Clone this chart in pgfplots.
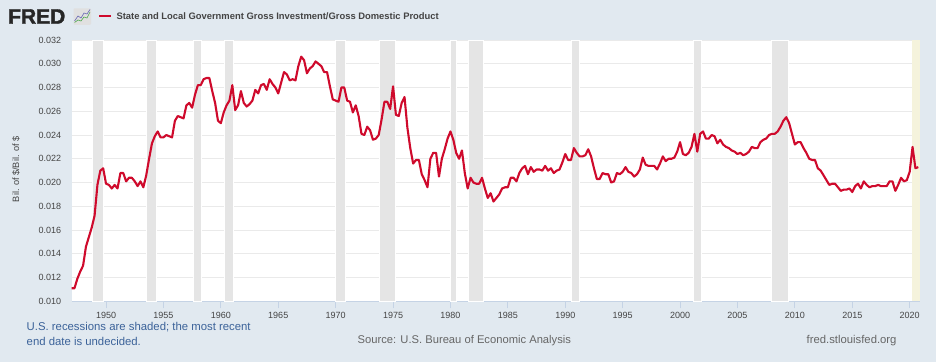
\documentclass[border=0pt]{standalone}
\usepackage{pgfplots}
\pgfplotsset{compat=1.18}
\usepackage{fontspec}
\setmainfont{Liberation Sans}
\definecolor{bgc}{HTML}{E1E9F0}
\definecolor{fredred}{HTML}{CF0A2C}
\definecolor{gridc}{HTML}{EAEAEA}
\definecolor{recc}{HTML}{E5E5E5}
\definecolor{yelc}{HTML}{F5F3DC}
\definecolor{axc}{HTML}{C5D3E5}
\definecolor{tickc}{HTML}{444444}
\definecolor{noteblue}{HTML}{3B6299}
\definecolor{srcc}{HTML}{666666}
\newcommand{\rec}[2]{\addplot[fill=recc,draw=white,line width=0.35pt,forget plot] coordinates {(#1,0.010)(#1,0.032)(#2,0.032)(#2,0.010)} -- cycle;}
\begin{document}
\begin{tikzpicture}[x=1pt,y=1pt]
\fill[bgc] (0,0) rectangle (936,362);
\begin{axis}[
  at={(71.6pt,60.7pt)},anchor=south west,
  scale only axis,width=848.4pt,height=261.3pt,
  xmin=1947,xmax=2020.9,ymin=0.010,ymax=0.032,
  axis background/.style={fill=white},
  axis lines*=left,
  y axis line style={draw=none},
  x axis line style={-,draw=axc,line width=0.8pt},
  xtick={1950,1955,...,2020},
  ytick={0.010,0.012,...,0.0321},
  xticklabel style={font=\fontsize{9}{11}\selectfont,text=tickc,/pgf/number format/.cd,1000 sep={},assume math mode=true},
  yticklabel style={font=\fontsize{9}{11}\selectfont,text=tickc,/pgf/number format/.cd,fixed,fixed zerofill,precision=3,assume math mode=true},
  scaled y ticks=false,
  ymajorgrids,
  major grid style={draw=gridc,line width=1pt},
  x tick style={draw=axc,line width=0.8pt},
  major tick length=7pt,
  tick align=outside,
  y tick style={draw=none},
  xtick pos=bottom,ytick pos=left,
  ylabel={Bil. of \$/Bil. of \$},
  every axis y label/.style={at={(-55.6pt,132pt)},rotate=90,anchor=center,font=\fontsize{9.2}{11}\selectfont,text=tickc},
  clip=true,
]
\rec{1948.83}{1949.75}
\rec{1953.5}{1954.33}
\rec{1957.58}{1958.25}
\rec{1960.25}{1961.08}
\rec{1969.92}{1970.83}
\rec{1973.83}{1975.17}
\rec{1980.0}{1980.5}
\rec{1981.5}{1982.83}
\rec{1990.5}{1991.17}
\rec{2001.17}{2001.83}
\rec{2007.92}{2009.42}
\addplot[fill=yelc,draw=none,forget plot] coordinates {(2020.17,0.010)(2020.17,0.032)(2020.9,0.032)(2020.9,0.010)} -- cycle;
\addplot[color=fredred,line width=2.1pt,line join=round] coordinates {
(1947.00,0.0111)(1947.25,0.0111)(1947.50,0.0119)(1947.75,0.0125)
(1948.00,0.0130)(1948.25,0.0146)(1948.50,0.0154)(1948.75,0.0162)
(1949.00,0.0172)(1949.25,0.0198)(1949.50,0.0210)(1949.75,0.0212)
(1950.00,0.0199)(1950.25,0.0198)(1950.50,0.0195)(1950.75,0.0198)
(1951.00,0.0195)(1951.25,0.0208)(1951.50,0.0208)(1951.75,0.0201)
(1952.00,0.0204)(1952.25,0.0204)(1952.50,0.0201)(1952.75,0.0197)
(1953.00,0.0201)(1953.25,0.0196)(1953.50,0.0206)(1953.75,0.0220)
(1954.00,0.0233)(1954.25,0.0239)(1954.50,0.0243)(1954.75,0.0238)
(1955.00,0.0238)(1955.25,0.0240)(1955.50,0.0239)(1955.75,0.0238)
(1956.00,0.0252)(1956.25,0.0256)(1956.50,0.0255)(1956.75,0.0254)
(1957.00,0.0265)(1957.25,0.0267)(1957.50,0.0263)(1957.75,0.0274)
(1958.00,0.0282)(1958.25,0.0282)(1958.50,0.0287)(1958.75,0.0288)
(1959.00,0.0288)(1959.25,0.0277)(1959.50,0.0267)(1959.75,0.0252)
(1960.00,0.0250)(1960.25,0.0259)(1960.50,0.0265)(1960.75,0.0269)
(1961.00,0.0282)(1961.25,0.0261)(1961.50,0.0265)(1961.75,0.0277)
(1962.00,0.0267)(1962.25,0.0264)(1962.50,0.0266)(1962.75,0.0269)
(1963.00,0.0278)(1963.25,0.0275)(1963.50,0.0282)(1963.75,0.0283)
(1964.00,0.0278)(1964.25,0.0287)(1964.50,0.0283)(1964.75,0.0280)
(1965.00,0.0275)(1965.25,0.0284)(1965.50,0.0293)(1965.75,0.0291)
(1966.00,0.0286)(1966.25,0.0287)(1966.50,0.0286)(1966.75,0.0298)
(1967.00,0.0306)(1967.25,0.0303)(1967.50,0.0292)(1967.75,0.0296)
(1968.00,0.0298)(1968.25,0.0302)(1968.50,0.0300)(1968.75,0.0298)
(1969.00,0.0293)(1969.25,0.0293)(1969.50,0.0281)(1969.75,0.0270)
(1970.00,0.0269)(1970.25,0.0268)(1970.50,0.0280)(1970.75,0.0280)
(1971.00,0.0269)(1971.25,0.0268)(1971.50,0.0259)(1971.75,0.0265)
(1972.00,0.0256)(1972.25,0.0241)(1972.50,0.0240)(1972.75,0.0247)
(1973.00,0.0244)(1973.25,0.0236)(1973.50,0.0237)(1973.75,0.0240)
(1974.00,0.0253)(1974.25,0.0268)(1974.50,0.0268)(1974.75,0.0262)
(1975.00,0.0281)(1975.25,0.0257)(1975.50,0.0256)(1975.75,0.0267)
(1976.00,0.0272)(1976.25,0.0246)(1976.50,0.0229)(1976.75,0.0216)
(1977.00,0.0219)(1977.25,0.0219)(1977.50,0.0207)(1977.75,0.0202)
(1978.00,0.0196)(1978.25,0.0220)(1978.50,0.0225)(1978.75,0.0225)
(1979.00,0.0205)(1979.25,0.0220)(1979.50,0.0228)(1979.75,0.0237)
(1980.00,0.0243)(1980.25,0.0236)(1980.50,0.0225)(1980.75,0.0220)
(1981.00,0.0227)(1981.25,0.0208)(1981.50,0.0195)(1981.75,0.0204)
(1982.00,0.0200)(1982.25,0.0199)(1982.50,0.0199)(1982.75,0.0204)
(1983.00,0.0195)(1983.25,0.0187)(1983.50,0.0191)(1983.75,0.0184)
(1984.00,0.0187)(1984.25,0.0190)(1984.50,0.0195)(1984.75,0.0196)
(1985.00,0.0196)(1985.25,0.0204)(1985.50,0.0204)(1985.75,0.0201)
(1986.00,0.0208)(1986.25,0.0212)(1986.50,0.0214)(1986.75,0.0207)
(1987.00,0.0213)(1987.25,0.0209)(1987.50,0.0211)(1987.75,0.0211)
(1988.00,0.0210)(1988.25,0.0214)(1988.50,0.0210)(1988.75,0.0212)
(1989.00,0.0208)(1989.25,0.0210)(1989.50,0.0211)(1989.75,0.0217)
(1990.00,0.0224)(1990.25,0.0219)(1990.50,0.0219)(1990.75,0.0229)
(1991.00,0.0225)(1991.25,0.0222)(1991.50,0.0222)(1991.75,0.0223)
(1992.00,0.0228)(1992.25,0.0222)(1992.50,0.0212)(1992.75,0.0203)
(1993.00,0.0203)(1993.25,0.0208)(1993.50,0.0207)(1993.75,0.0207)
(1994.00,0.0200)(1994.25,0.0201)(1994.50,0.0208)(1994.75,0.0207)
(1995.00,0.0209)(1995.25,0.0213)(1995.50,0.0209)(1995.75,0.0208)
(1996.00,0.0205)(1996.25,0.0207)(1996.50,0.0211)(1996.75,0.0221)
(1997.00,0.0215)(1997.25,0.0214)(1997.50,0.0214)(1997.75,0.0214)
(1998.00,0.0211)(1998.25,0.0216)(1998.50,0.0222)(1998.75,0.0218)
(1999.00,0.0220)(1999.25,0.0220)(1999.50,0.0221)(1999.75,0.0226)
(2000.00,0.0234)(2000.25,0.0224)(2000.50,0.0223)(2000.75,0.0225)
(2001.00,0.0230)(2001.25,0.0241)(2001.50,0.0226)(2001.75,0.0241)
(2002.00,0.0243)(2002.25,0.0237)(2002.50,0.0237)(2002.75,0.0240)
(2003.00,0.0239)(2003.25,0.0233)(2003.50,0.0236)(2003.75,0.0232)
(2004.00,0.0230)(2004.25,0.0229)(2004.50,0.0227)(2004.75,0.0226)
(2005.00,0.0224)(2005.25,0.0225)(2005.50,0.0223)(2005.75,0.0224)
(2006.00,0.0226)(2006.25,0.0230)(2006.50,0.0229)(2006.75,0.0229)
(2007.00,0.0234)(2007.25,0.0236)(2007.50,0.0237)(2007.75,0.0240)
(2008.00,0.0241)(2008.25,0.0241)(2008.50,0.0243)(2008.75,0.0247)
(2009.00,0.0252)(2009.25,0.0255)(2009.50,0.0250)(2009.75,0.0241)
(2010.00,0.0232)(2010.25,0.0234)(2010.50,0.0234)(2010.75,0.0229)
(2011.00,0.0225)(2011.25,0.0220)(2011.50,0.0219)(2011.75,0.0219)
(2012.00,0.0212)(2012.25,0.0210)(2012.50,0.0206)(2012.75,0.0202)
(2013.00,0.0198)(2013.25,0.0199)(2013.50,0.0199)(2013.75,0.0196)
(2014.00,0.0193)(2014.25,0.0194)(2014.50,0.0194)(2014.75,0.0195)
(2015.00,0.0192)(2015.25,0.0197)(2015.50,0.0199)(2015.75,0.0195)
(2016.00,0.0201)(2016.25,0.0198)(2016.50,0.0196)(2016.75,0.0197)
(2017.00,0.0197)(2017.25,0.0198)(2017.50,0.0197)(2017.75,0.0197)
(2018.00,0.0197)(2018.25,0.0201)(2018.50,0.0201)(2018.75,0.0193)
(2019.00,0.0198)(2019.25,0.0204)(2019.50,0.0201)(2019.75,0.0202)
(2020.00,0.0209)(2020.25,0.0230)(2020.50,0.0212)(2020.75,0.0213)
};
\end{axis}
% header
\node[anchor=west,inner sep=0pt,text=black!85] at (8,345.5) {\fontsize{21}{21}\selectfont\bfseries\addfontfeature{FakeBold=1.5}FRED};
\fill[rounded corners=1pt,black!12] (73.5,337) rectangle (91,353.5);
\draw[green!50!black!70,line width=0.6pt] (74.5,339.5) -- (78,342) -- (81,341) -- (84,345) -- (87,344) -- (90,350);
\draw[blue!50!black!60,line width=0.6pt] (74.5,341) -- (78,346) -- (81,344) -- (84,349) -- (87,348) -- (90,352.5);
\draw[fredred,line width=2pt] (99,346) -- (111,346);
\node[anchor=west,inner sep=0pt,text=tickc] at (116.3,346) {\fontsize{9.4}{11}\selectfont\bfseries State and Local Government Gross Investment/Gross Domestic Product};
% footer
\node[anchor=west,inner sep=0pt,text=noteblue] at (26.5,35) {\fontsize{11.35}{13}\selectfont U.S. recessions are shaded; the most recent};
\node[anchor=west,inner sep=0pt,text=noteblue] at (26.5,21) {\fontsize{11.35}{13}\selectfont end date is undecided.};
\node[anchor=west,inner sep=0pt,text=srcc] at (357.5,21) {\fontsize{11.2}{13}\selectfont Source: U.S. Bureau of Economic Analysis};
\node[anchor=west,inner sep=0pt,text=srcc] at (806.5,21) {\fontsize{11.3}{13}\selectfont fred.stlouisfed.org};
\end{tikzpicture}
\end{document}
